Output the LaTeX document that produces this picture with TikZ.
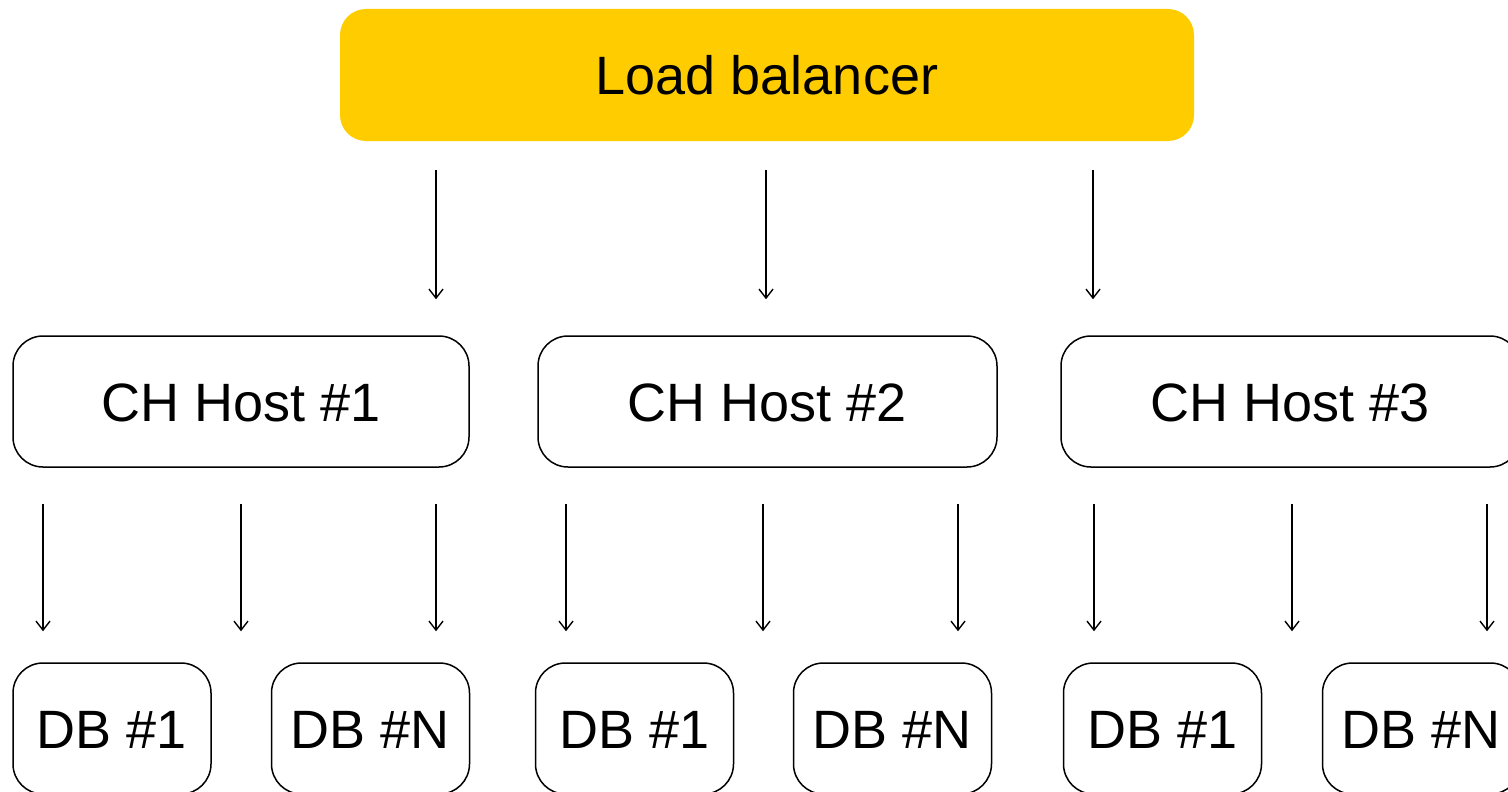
\documentclass[tikz,border=0pt]{standalone}
\usepackage{fontspec}
\setmainfont{Liberation Sans}
\usetikzlibrary{arrows.meta}
\definecolor{lbyellow}{HTML}{FFCC00}
\begin{document}
\begin{tikzpicture}[x=1pt,y=-1pt,
  label font/.style={font=\fontsize{54}{60}\selectfont, text height=39pt, text depth=0pt, inner sep=0pt},
  lbbox/.style={label font, fill=lbyellow, rounded corners=26pt, minimum width=854pt, minimum height=132pt},
  hostbox/.style={label font, draw=black, line width=1.5pt, rounded corners=30pt, minimum width=457pt, minimum height=131pt},
  dbbox/.style={label font, draw=black, line width=1.5pt, rounded corners=30pt, minimum width=198pt, minimum height=131pt},
  arr/.style={line width=1.4pt, -{Straight Barb[length=9pt,width=14pt]}}]
\clip (0,0) rectangle (1508,792);
\fill[white] (0,0) rectangle (1508,792);

% load balancer
\node[lbbox] (lb) at (767,75) {Load balancer};

% ClickHouse hosts
\node[hostbox, minimum width=456pt] (ch1) at (241,401.5) {CH Host \#1};
\node[hostbox, minimum width=459pt] (ch2) at (767.5,401.5) {CH Host \#2};
\node[hostbox, minimum width=459pt] (ch3) at (1290.5,401.5) {CH Host \#3};

% databases
\node[dbbox] (db11) at (112,728.5) {DB \#1};
\node[dbbox] (db1n) at (370.5,728.5) {DB \#N};
\node[dbbox] (db21) at (634.5,728.5) {DB \#1};
\node[dbbox] (db2n) at (892.5,728.5) {DB \#N};
\node[dbbox] (db31) at (1162.5,728.5) {DB \#1};
\node[dbbox] (db3n) at (1421.5,728.5) {DB \#N};

% balancer to hosts
\foreach \h/\o in {ch1/195, ch2/-1.5, ch3/-197.5}{
  \path ([xshift=\o pt]\h.north) coordinate (t);
  \draw[arr, shorten <=29pt, shorten >=36pt] (t |- lb.south) -- (t);
}

% hosts to databases
\foreach \h/\o in {ch1/-198, ch1/0, ch1/195,
                   ch2/-201.5, ch2/-4.5, ch2/190.5,
                   ch3/-196.5, ch3/1.5, ch3/196.5}{
  \path ([xshift=\o pt]\h.south) coordinate (s);
  \draw[arr, shorten <=36pt, shorten >=31pt] (s) -- (s |- db11.north);
}
\end{tikzpicture}
\end{document}
